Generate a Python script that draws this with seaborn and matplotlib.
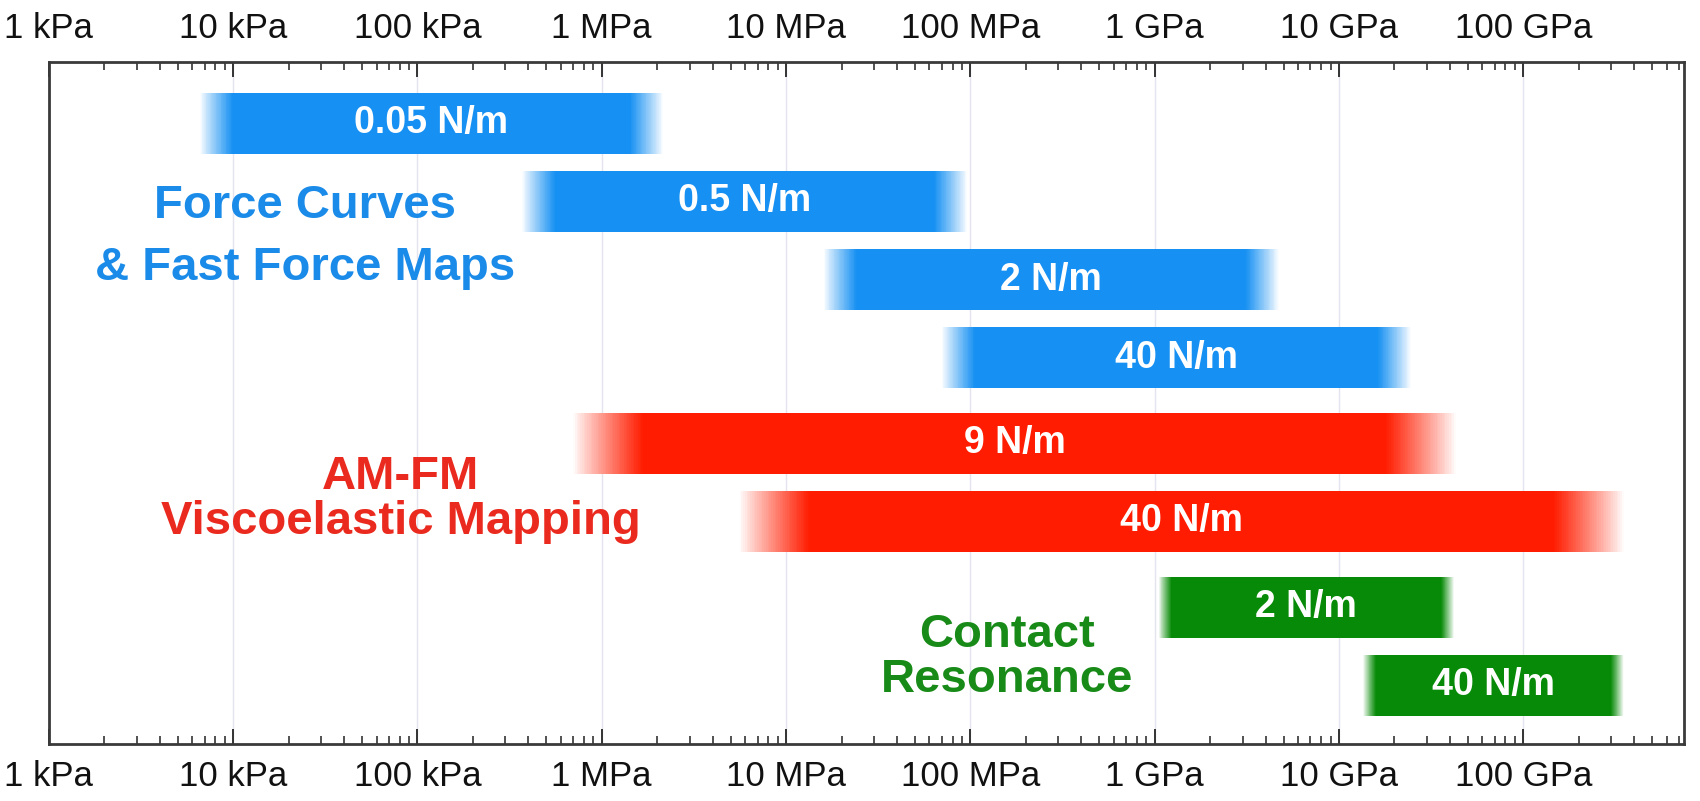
import numpy as np
import matplotlib
matplotlib.use("Agg")
import matplotlib.pyplot as plt
from matplotlib.ticker import FixedLocator, LogLocator, NullFormatter
import seaborn as sns

# ---------------- data ----------------
bar_labels = ["0.05 N/m", "0.5 N/m", "2 N/m", "40 N/m", "9 N/m", "40 N/m", "2 N/m", "40 N/m"]
bar_groups = [0, 0, 0, 0, 1, 1, 2, 2]
bar_start = [6.6e3, 3.7e5, 1.6e7, 7.0e7, 7.0e5, 5.6e6, 1.05e9, 1.35e10]   # Pa
bar_end = [2.15e6, 9.6e7, 4.7e9, 2.45e10, 4.3e10, 3.5e11, 4.2e10, 3.5e11]  # Pa

group_names = ["Force Curves\n& Fast Force Maps", "AM-FM\nViscoelastic Mapping", "Contact\nResonance"]
group_colors = ["#1690F2", "#FF1C00", "#078A07"]
group_text_colors = ["#1A8BE8", "#EA2A1E", "#178A17"]
group_fade = [0.18, 0.38, 0.07]        # decades of soft edge

tick_values = [1e3, 1e4, 1e5, 1e6, 1e7, 1e8, 1e9, 1e10, 1e11]
tick_labels = ["1 kPa", "10 kPa", "100 kPa", "1 MPa", "10 MPa", "100 MPa", "1 GPa", "10 GPa", "100 GPa"]

# ---------------- style ----------------
sns.set_theme(style="white")
plt.rcParams["font.family"] = ["Liberation Sans", "DejaVu Sans"]

fig = plt.figure(figsize=(17, 8.01), dpi=100)
ax = fig.add_axes([0.0287, 0.0715, 0.9617, 0.8513])
ax.set_xscale("log")
ax.set_xlim(1e3, 10 ** 11.87)

row_y = [i + 0.1 * g for i, g in enumerate(bar_groups)]
ax.set_ylim(7.95, -0.79)
bar_h = 0.78


def blend(c, t):
    rgb = np.array(matplotlib.colors.to_rgb(c))
    return tuple(1 - t * (1 - rgb))


nseg = 40
for y, s, e, g, lab in zip(row_y, bar_start, bar_end, bar_groups, bar_labels):
    col = group_colors[g]
    f = group_fade[g]
    ls, le = np.log10(s), np.log10(e)
    # solid core
    ax.barh(y, 10 ** (le - f) - 10 ** (ls + f), left=10 ** (ls + f), height=bar_h,
            color=col, linewidth=0, antialiased=False, zorder=3)
    # soft edges
    for k in range(nseg):
        t = ((k + 0.5) / nseg) ** 0.9
        a0 = ls + f * k / nseg
        a1 = ls + f * (k + 1) / nseg
        ax.barh(y, 10 ** a1 - 10 ** a0, left=10 ** a0, height=bar_h, color=blend(col, t),
                linewidth=0, antialiased=False, zorder=3)
        b1 = le - f * k / nseg
        b0 = le - f * (k + 1) / nseg
        ax.barh(y, 10 ** b1 - 10 ** b0, left=10 ** b0, height=bar_h, color=blend(col, t),
                linewidth=0, antialiased=False, zorder=3)
    ax.text(np.sqrt(s * e), y, lab, ha="center", va="center", color="white",
            fontsize=27, fontweight="bold", zorder=4)

# group captions (x centre in Pa, baselines in row units)
group_x = [10 ** 4.39, 10 ** 4.91, 10 ** 8.2]
group_base = [(1.21, 2.01), (4.69, 5.26), (6.71, 7.29)]
for name, gx, yb, tc in zip(group_names, group_x, group_base, group_text_colors):
    for line, yy in zip(name.split("\n"), yb):
        ax.text(gx, yy, line, ha="center", va="baseline", color=tc,
                fontsize=34, fontweight="bold", zorder=4)

# axes cosmetics
ax.xaxis.set_major_locator(FixedLocator(tick_values))
ax.set_xticklabels(tick_labels)
ax.xaxis.set_minor_locator(LogLocator(base=10, subs=np.arange(2, 10)))
ax.xaxis.set_minor_formatter(NullFormatter())
ax.tick_params(axis="x", which="both", direction="in", top=True, bottom=True,
               labeltop=True, labelbottom=True, colors="#333333", labelcolor="#111111")
ax.tick_params(axis="x", which="major", length=11, width=1.4, labelsize=25, pad=12)
ax.tick_params(axis="x", which="minor", length=6, width=1.2)
ax.set_yticks([])
ax.grid(True, axis="x", which="major", color="#e4e4ee", linewidth=1, zorder=0)
for sp in ax.spines.values():
    sp.set_visible(True)
    sp.set_color("#3a3a3a")
    sp.set_linewidth(2)

fig.savefig("out.png", dpi=100, facecolor="white")
